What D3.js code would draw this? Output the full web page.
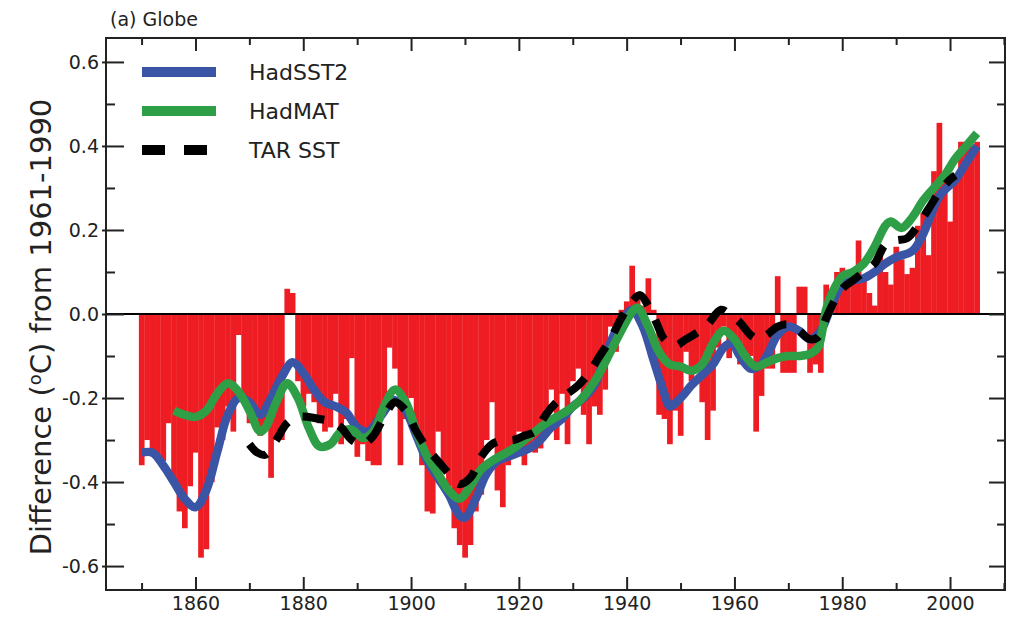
<!DOCTYPE html>
<html>
<head>
<meta charset="utf-8">
<script src="https://cdn.jsdelivr.net/npm/d3@7"></script>
<style>
  body { margin: 0; background: #fff; }
  text { font-family: "DejaVu Sans", sans-serif; fill: #222; }
</style>
</head>
<body>
<svg></svg>
<script>
// annual global SST anomaly bars, 1850-2005
var barStart = 1850;
var barValues = [
  -0.36, -0.30, -0.33, -0.35, -0.35, -0.26, -0.40, -0.47, -0.51, -0.41,   // 1850s
  -0.33, -0.58, -0.56, -0.40, -0.27, -0.30, -0.22, -0.28, -0.05, -0.21,   // 1860s
  -0.26, -0.24, -0.29, -0.27, -0.39, -0.30, -0.30, 0.06, 0.05, -0.16,     // 1870s
  -0.22, -0.19, -0.21, -0.26, -0.28, -0.27, -0.19, -0.31, -0.25, -0.105,  // 1880s
  -0.34, -0.31, -0.35, -0.36, -0.36, -0.24, -0.08, -0.13, -0.36, -0.25,   // 1890s
  -0.20, -0.27, -0.36, -0.47, -0.475, -0.28, -0.37, -0.41, -0.51, -0.55,  // 1900s
  -0.58, -0.55, -0.47, -0.43, -0.30, -0.21, -0.42, -0.46, -0.36, -0.33,   // 1910s
  -0.28, -0.36, -0.32, -0.33, -0.32, -0.29, -0.18, -0.30, -0.19, -0.31,   // 1920s
  -0.16, -0.13, -0.24, -0.31, -0.22, -0.24, -0.18, -0.03, -0.09, 0.01,    // 1930s
  0.03, 0.115, 0.04, 0.02, 0.085, 0.01, -0.24, -0.25, -0.31, -0.23,       // 1940s
  -0.29, -0.09, -0.16, -0.13, -0.21, -0.30, -0.23, -0.08, -0.03, -0.105,  // 1950s
  -0.06, -0.12, -0.12, -0.10, -0.28, -0.195, -0.13, -0.13, 0.09, -0.14,   // 1960s
  -0.14, -0.14, 0.065, 0.065, -0.14, -0.12, -0.14, 0.07, 0.05, 0.10,      // 1970s
  0.11, 0.07, 0.08, 0.175, 0.08, 0.05, 0.02, 0.14, 0.10, 0.07,            // 1980s
  0.16, 0.13, 0.095, 0.11, 0.21, 0.24, 0.14, 0.34, 0.455, 0.32,           // 1990s
  0.22, 0.32, 0.41, 0.41, 0.40, 0.41                                      // 2000s
];

// smoothed series [year, value]
var hadsst2 = [
  [1850,-0.33],[1852,-0.33],[1854,-0.36],[1856,-0.40],[1858,-0.44],[1860,-0.46],
  [1862,-0.42],[1864,-0.33],[1866,-0.24],[1868,-0.20],[1870,-0.21],[1872,-0.24],
  [1874,-0.20],[1876,-0.15],[1878,-0.115],[1880,-0.14],[1882,-0.18],[1884,-0.21],
  [1886,-0.22],[1888,-0.235],[1890,-0.27],[1892,-0.28],[1894,-0.25],[1896,-0.215],
  [1897,-0.205],[1899,-0.23],[1901,-0.29],[1903,-0.35],[1905,-0.39],[1907,-0.43],
  [1909,-0.48],[1910,-0.485],[1912,-0.44],[1914,-0.38],[1916,-0.35],[1918,-0.34],
  [1920,-0.33],[1922,-0.32],[1924,-0.30],[1926,-0.27],[1928,-0.25],[1930,-0.22],
  [1932,-0.20],[1934,-0.17],[1936,-0.10],[1938,-0.04],[1940,0.0],[1941,0.01],
  [1943,-0.03],[1945,-0.11],[1947,-0.19],[1948,-0.22],[1950,-0.20],[1952,-0.17],
  [1954,-0.145],[1956,-0.12],[1958,-0.08],[1959.5,-0.07],[1961,-0.10],[1963,-0.13],
  [1964.5,-0.125],[1966,-0.10],[1968,-0.05],[1970,-0.03],[1972,-0.04],[1974,-0.06],
  [1976,-0.04],[1978,0.02],[1980,0.07],[1982,0.08],[1984,0.085],[1986,0.10],
  [1988,0.12],[1990,0.135],[1993,0.15],[1995,0.19],[1998,0.28],[2001,0.32],
  [2003,0.36],[2005,0.40]
];

var hadmat = [
  [1856,-0.23],[1858,-0.24],[1860,-0.245],[1862,-0.23],[1864,-0.19],[1866,-0.165],
  [1868,-0.185],[1870,-0.23],[1872,-0.28],[1873,-0.27],[1875,-0.21],[1877,-0.165],
  [1879,-0.20],[1881,-0.27],[1883,-0.315],[1885,-0.31],[1887,-0.28],[1889,-0.275],
  [1891,-0.295],[1893,-0.28],[1895,-0.22],[1897,-0.18],[1899,-0.21],[1901,-0.28],
  [1903,-0.34],[1905,-0.38],[1907,-0.42],[1909,-0.44],[1911,-0.41],[1913,-0.37],
  [1915,-0.35],[1917,-0.335],[1919,-0.32],[1921,-0.30],[1923,-0.28],[1925,-0.26],
  [1927,-0.245],[1929,-0.23],[1931,-0.21],[1933,-0.18],[1935,-0.14],[1937,-0.09],
  [1939,-0.04],[1941,0.005],[1942,0.015],[1944,-0.03],[1946,-0.09],[1948,-0.12],
  [1950,-0.125],[1952,-0.135],[1954,-0.12],[1956,-0.07],[1958,-0.04],[1960,-0.06],
  [1962,-0.10],[1964,-0.125],[1966,-0.115],[1968,-0.105],[1970,-0.10],[1972,-0.10],
  [1974,-0.095],[1975.5,-0.08],[1977,0.01],[1978.5,0.06],[1980,0.09],[1982,0.10],
  [1984,0.12],[1986,0.16],[1988,0.21],[1989,0.22],[1991,0.205],[1993,0.23],
  [1995,0.27],[1997,0.30],[1999,0.33],[2001,0.37],[2003,0.40],[2005,0.43]
];

var tarsst = [
  [1870,-0.31],[1871.5,-0.33],[1873,-0.335],[1875,-0.30],[1877,-0.26],[1879,-0.245],
  [1881,-0.245],[1883,-0.25],[1885,-0.255],[1887,-0.27],[1889,-0.30],[1891,-0.31],
  [1893,-0.29],[1895,-0.245],[1897,-0.21],[1899,-0.23],[1901,-0.28],[1903,-0.32],
  [1905,-0.35],[1907,-0.38],[1909,-0.405],[1911,-0.39],[1913,-0.34],[1915,-0.31],
  [1917,-0.30],[1919,-0.30],[1921,-0.29],[1923,-0.28],[1925,-0.24],[1927,-0.21],
  [1929,-0.19],[1931,-0.17],[1933,-0.14],[1935,-0.10],[1937,-0.06],[1939,-0.01],
  [1941,0.03],[1942.5,0.045],[1944,0.02],[1945.5,-0.02],[1947,-0.06],[1949,-0.075],
  [1951,-0.06],[1953,-0.045],[1955,-0.025],[1957.5,0.01],[1959,0.0],[1961,-0.02],
  [1963,-0.05],[1964.5,-0.06],[1966,-0.05],[1968,-0.03],[1970,-0.025],[1972,-0.04],
  [1974,-0.06],[1975.5,-0.055],[1977,-0.01],[1978.5,0.03],[1980,0.06],[1982,0.08],
  [1984,0.10],[1986,0.12],[1988,0.165],[1990,0.175],[1992,0.18],[1994,0.21],
  [1996,0.25],[1998,0.29],[2000,0.32],[2001,0.33]
];

var yMajor = [-0.6, -0.4, -0.2, 0.0, 0.2, 0.4, 0.6];
var yMinor = [-0.5, -0.3, -0.1, 0.1, 0.3, 0.5];
var xMajor = [1860, 1880, 1900, 1920, 1940, 1960, 1980, 2000];
var xMinor = [1850, 1870, 1890, 1910, 1930, 1950, 1970, 1990, 2010];

var legendItems = [
  {name: "HadSST2", color: "#3a55a5", dash: null},
  {name: "HadMAT", color: "#2e9e47", dash: null},
  {name: "TAR SST", color: "#000", dash: "23,19"}
];

var w = 1015, h = 617;
var pLeft = 106, pRight = 1005, pTop = 38, pBottom = 590;

var svg = d3.select("svg")
        .attr("width", w)
        .attr("height", h);

var x = d3.scaleLinear().domain([1843.4, 2010.2]).range([pLeft, pRight]);
var y = d3.scaleLinear().domain([-0.657, 0.657]).range([pBottom, pTop]);
var barW = x(1851) - x(1850);

var fmt = function(d) { return d3.format(".1f")(d).replace("−", "-"); };

// bars
svg.append("g")
        .selectAll("rect")
        .data(barValues)
        .enter().append("rect")
        .attr("x", function(d, i) { return x(barStart + i) - barW / 2; })
        .attr("width", barW + 0.3)
        .attr("y", function(d) { return y(Math.max(d, 0)); })
        .attr("height", function(d) { return Math.abs(y(d) - y(0)); })
        .attr("fill", "#ee1d24");

// zero line
svg.append("line")
        .attr("x1", pLeft).attr("x2", pRight)
        .attr("y1", y(0)).attr("y2", y(0))
        .attr("stroke", "#000").attr("stroke-width", 2);

var line = d3.line()
        .x(function(d) { return x(d[0]); })
        .y(function(d) { return y(d[1]); })
        .curve(d3.curveCatmullRom.alpha(0.5));

svg.append("path").datum(hadsst2)
        .attr("d", line).attr("fill", "none")
        .attr("stroke", legendItems[0].color).attr("stroke-width", 8.5);
svg.append("path").datum(hadmat)
        .attr("d", line).attr("fill", "none")
        .attr("stroke", legendItems[1].color).attr("stroke-width", 8.5);
svg.append("path").datum(tarsst)
        .attr("d", line).attr("fill", "none")
        .attr("stroke", "#000").attr("stroke-width", 8)
        .attr("stroke-dasharray", "22,16");

// axes, ticks pointing inward
function styleAxis(g) {
    g.select(".domain").remove();
    g.selectAll("line").attr("stroke", "#222").attr("stroke-width", 2);
    g.selectAll("text").attr("font-size", 19).attr("font-family", "DejaVu Sans").attr("fill", "#222");
}

svg.append("g").attr("transform", "translate(" + pLeft + ",0)")
        .call(d3.axisLeft(y).tickValues(yMajor).tickSize(-18).tickPadding(7).tickFormat(fmt))
        .call(styleAxis);
// short stubs outside the left axis
svg.append("g").attr("transform", "translate(" + pLeft + ",0)")
        .call(d3.axisLeft(y).tickValues(yMajor).tickSize(4).tickFormat(""))
        .call(styleAxis);
svg.append("g").attr("transform", "translate(" + pLeft + ",0)")
        .call(d3.axisLeft(y).tickValues(yMinor).tickSize(-9).tickFormat(""))
        .call(styleAxis);
svg.append("g").attr("transform", "translate(" + pRight + ",0)")
        .call(d3.axisRight(y).tickValues(yMajor).tickSize(-16).tickFormat(""))
        .call(styleAxis);
svg.append("g").attr("transform", "translate(" + pRight + ",0)")
        .call(d3.axisRight(y).tickValues(yMinor).tickSize(-8).tickFormat(""))
        .call(styleAxis);
svg.append("g").attr("transform", "translate(0," + pBottom + ")")
        .call(d3.axisBottom(x).tickValues(xMajor).tickSize(-13).tickPadding(7).tickFormat(d3.format("d")))
        .call(styleAxis);
svg.append("g").attr("transform", "translate(0," + pBottom + ")")
        .call(d3.axisBottom(x).tickValues(xMinor).tickSize(-7).tickFormat(""))
        .call(styleAxis);
svg.append("g").attr("transform", "translate(0," + pTop + ")")
        .call(d3.axisTop(x).tickValues(xMajor).tickSize(-13).tickFormat(""))
        .call(styleAxis);
svg.append("g").attr("transform", "translate(0," + pTop + ")")
        .call(d3.axisTop(x).tickValues(xMinor).tickSize(-7).tickFormat(""))
        .call(styleAxis);

// frame
svg.append("rect")
        .attr("x", pLeft).attr("y", pTop)
        .attr("width", pRight - pLeft).attr("height", pBottom - pTop)
        .attr("fill", "none").attr("stroke", "#222").attr("stroke-width", 2);

// title
svg.append("text")
        .attr("x", 110).attr("y", 26)
        .attr("font-size", 19)
        .text("(a) Globe");

// y label
var ylab = svg.append("text")
        .attr("transform", "translate(51,327) rotate(-90)")
        .attr("text-anchor", "middle")
        .attr("font-family", "Liberation Sans, Arial, sans-serif")
        .attr("font-size", 29);
ylab.append("tspan").text("Difference (");
ylab.append("tspan").attr("font-size", 18).attr("dy", -10).text("o");
ylab.append("tspan").attr("dy", 10).text("C) from 1961-1990");

// legend
var leg = svg.append("g")
        .selectAll("g")
        .data(legendItems)
        .enter().append("g")
        .attr("transform", function(d, i) { return "translate(0," + (72 + i * 39) + ")"; });
leg.append("line")
        .attr("x1", 142).attr("x2", 216)
        .attr("stroke", function(d) { return d.color; })
        .attr("stroke-width", 10)
        .attr("stroke-dasharray", function(d) { return d.dash; });
leg.append("text")
        .attr("x", 249).attr("dy", "0.36em")
        .attr("font-size", 22)
        .text(function(d) { return d.name; });
</script>
</body>
</html>
